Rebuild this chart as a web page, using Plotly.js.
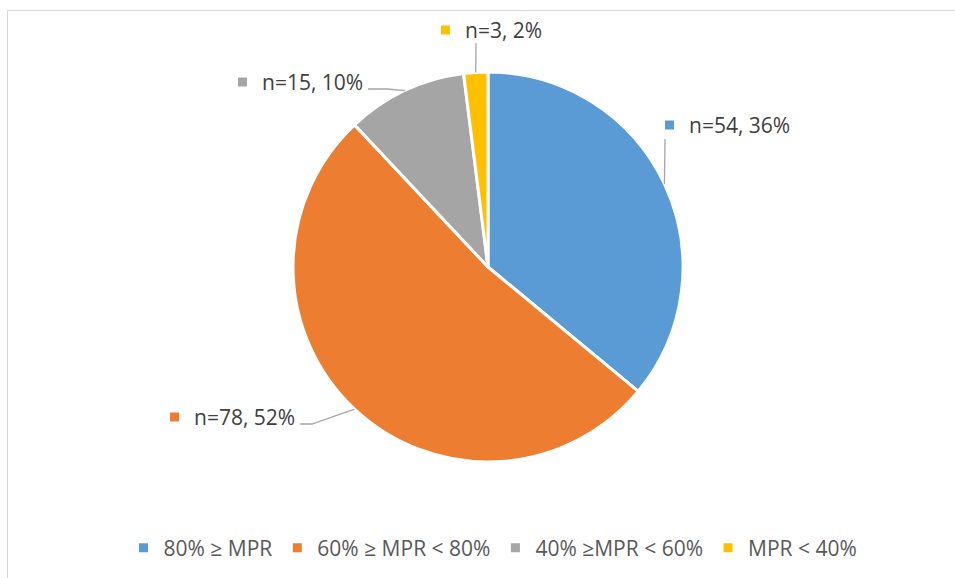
<!DOCTYPE html>
<html>
<head>
<meta charset="utf-8">
<script src="https://cdn.plot.ly/plotly-3.0.1.min.js"></script>
<style>html,body{margin:0;padding:0;background:#fff;}#chart{width:955px;height:578px;}</style>
</head>
<body>
<div id="chart"></div>
<script>
// ---- data ----
const categories = ["80% ≥ MPR", "60% ≥ MPR < 80%", "40% ≥MPR < 60%", "MPR < 40%"];
const counts = [54, 78, 15, 3];
const percents = [36, 52, 10, 2];
const colors = ["#5B9BD5", "#ED7D31", "#A5A5A5", "#FFC000"];

// ---- layout helpers (pixels) ----
const W = 955, H = 578;
const cx = 488, cy = 267, R = 195;
const px = x => x / W;
const py = y => 1 - y / H;

// label anchors (square left edge, vertical centre) and leader-line label-side points
const labelAnchor = [[665, 125], [170, 417], [238, 82], [441, 30]];
const leaderLabelSide = [
  [[665, 139]],
  [[300, 424], [312, 424]],
  [[368, 89], [387, 89]],
  [[476, 43]]
];

const total = counts.reduce((a, b) => a + b, 0);
const shapes = [];
const annotations = [];

// frame
shapes.push({type: "rect", xref: "paper", yref: "paper",
  x0: px(7.5), x1: px(W + 10), y0: py(H + 10), y1: py(10.5),
  line: {color: "#D9D9D9", width: 1}, fillcolor: "rgba(0,0,0,0)", layer: "below"});

let cum = 0;
counts.forEach((v, i) => {
  const mid = (cum + v / 2) / total * 2 * Math.PI;
  cum += v;
  const ex = cx + R * Math.sin(mid), ey = cy - R * Math.cos(mid);
  const pts = leaderLabelSide[i].concat([[ex, ey]]);
  let path = "M" + pts.map(p => px(p[0]) + "," + py(p[1])).join(" L");
  shapes.push({type: "path", xref: "paper", yref: "paper", path: path,
    line: {color: "#A6A6A6", width: 1.3}});
  const [ax, ay] = labelAnchor[i];
  shapes.push({type: "rect", xref: "paper", yref: "paper",
    x0: px(ax), x1: px(ax + 9), y0: py(ay + 4.5), y1: py(ay - 4.5),
    fillcolor: colors[i], line: {width: 0}});
  annotations.push({xref: "paper", yref: "paper", x: px(ax + 22), y: py(ay),
    xanchor: "left", yanchor: "middle", showarrow: false,
    text: "n=" + counts[i] + ", " + percents[i] + "%",
    font: {family: "Open Sans, Liberation Sans, sans-serif", size: 21, color: "#404040"}});
});

const trace = {
  type: "pie",
  labels: categories,
  values: counts,
  sort: false,
  direction: "clockwise",
  rotation: 0,
  textinfo: "none",
  hoverinfo: "label+value+percent",
  marker: {colors: colors, line: {color: "#FFFFFF", width: 3}},
  domain: {x: [px(cx - R), px(cx + R)], y: [py(cy + R), py(cy - R)]}
};

const layout = {
  width: W, height: H,
  margin: {l: 0, r: 0, t: 0, b: 0},
  paper_bgcolor: "#FFFFFF",
  showlegend: true,
  legend: {orientation: "h", x: px(493), xanchor: "center", y: py(548), yanchor: "middle",
    font: {family: "Open Sans, Liberation Sans, sans-serif", size: 21, color: "#595959"},
    itemwidth: 30, traceorder: "normal"},
  shapes: shapes,
  annotations: annotations
};

Plotly.newPlot("chart", [trace], layout, {displayModeBar: false, staticPlot: true});
</script>
</body>
</html>
